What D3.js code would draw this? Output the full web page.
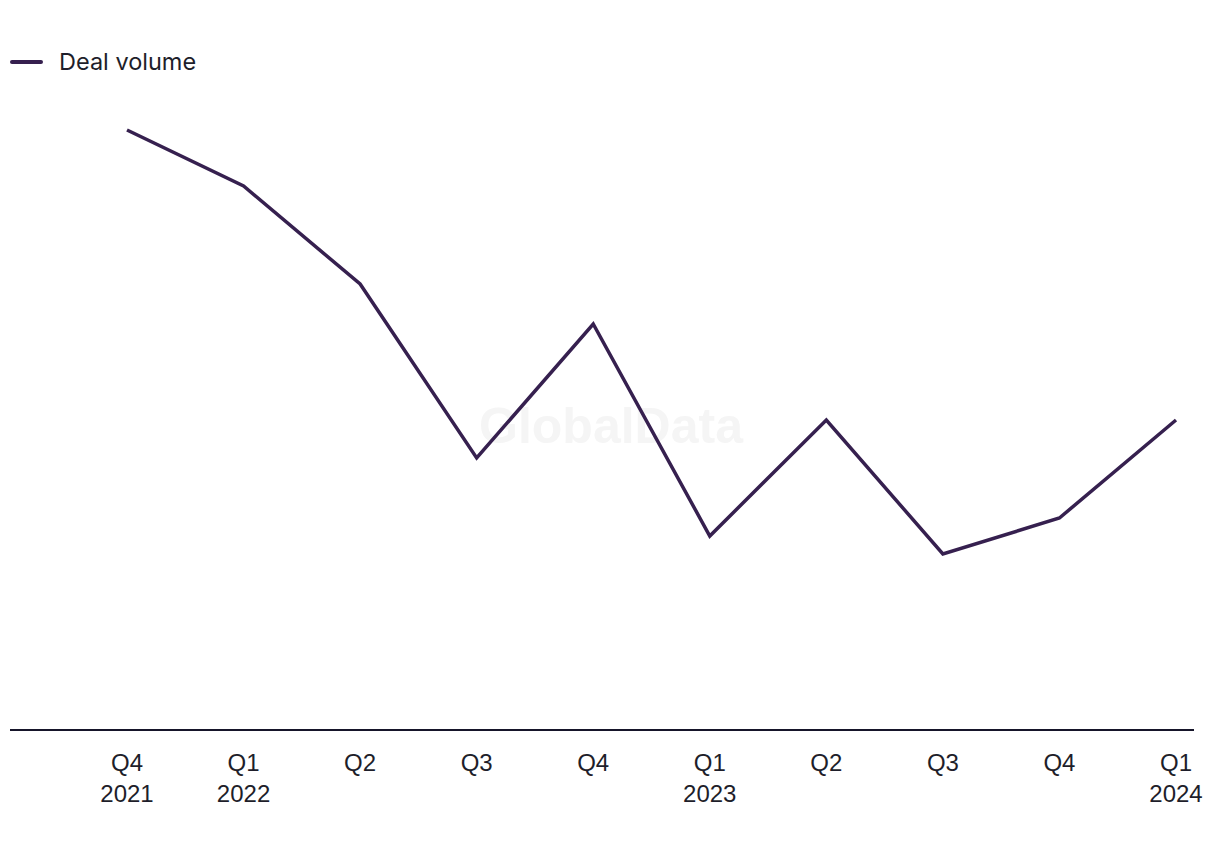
<!DOCTYPE html>
<html>
<head>
<meta charset="utf-8">
<script src="https://cdn.jsdelivr.net/npm/d3@7"></script>
<style>
  html, body { margin: 0; padding: 0; background: #ffffff; }
  svg { display: block; }
</style>
</head>
<body>
<svg id="chart" width="1220" height="850"></svg>
<script>
const quarters = ["Q4", "Q1", "Q2", "Q3", "Q4", "Q1", "Q2", "Q3", "Q4", "Q1"];
const years = ["2021", "2022", "", "", "", "2023", "", "", "", "2024"];
const categories = quarters.map((q, i) => q + " " + years[i] + "#" + i);
const dealVolume = [150, 136, 111.5, 68, 101.5, 48.5, 77.5, 44, 53, 77.5];
const seriesName = "Deal volume";

const svg = d3.select("#chart");
const lineColor = "#36204f";

// watermark
svg.append("text")
  .attr("x", 611).attr("y", 443)
  .attr("text-anchor", "middle")
  .attr("font-family", "Liberation Sans, Arial, sans-serif")
  .attr("font-weight", "bold")
  .attr("font-size", 50)
  .attr("fill", "#f5f5f5")
  .text("GlobalData");

const x = d3.scalePoint().domain(categories).range([127, 1176]);
const y = d3.scaleLinear().domain([0, 150]).range([730, 130]);

// baseline axis
const xAxis = d3.axisBottom(x).tickSize(0).tickFormat("");
const axisG = svg.append("g").attr("transform", "translate(0,730)").call(xAxis);
axisG.select(".domain").remove();
svg.append("line")
  .attr("x1", 10).attr("x2", 1194)
  .attr("y1", y(0)).attr("y2", y(0))
  .attr("stroke", "#16152a").attr("stroke-width", 2);

// tick labels
const labels = svg.append("g");
categories.forEach((c, i) => {
  const t = labels.append("text")
    .attr("x", x(c)).attr("y", 771)
    .attr("text-anchor", "middle")
    .attr("font-family", "Liberation Sans, Arial, sans-serif")
    .attr("font-size", 24)
    .attr("fill", "#1e1e2a");
  t.append("tspan").attr("x", x(c)).attr("dy", 0).text(quarters[i]);
  if (years[i]) t.append("tspan").attr("x", x(c)).attr("dy", 31).text(years[i]);
});

// line
const line = d3.line()
  .x((d, i) => x(categories[i]))
  .y(d => y(d));
svg.append("path")
  .datum(dealVolume)
  .attr("d", line)
  .attr("fill", "none")
  .attr("stroke", lineColor)
  .attr("stroke-width", 3.5)
  .attr("stroke-linejoin", "miter");

// legend
const lg = svg.append("g");
lg.append("line")
  .attr("x1", 12).attr("x2", 41).attr("y1", 62).attr("y2", 62)
  .attr("stroke", lineColor).attr("stroke-width", 4).attr("stroke-linecap", "round");
lg.append("text")
  .attr("x", 59).attr("y", 70)
  .attr("font-family", "Inter, Liberation Sans, sans-serif")
  .attr("font-size", 23.5)
  .attr("fill", "#1e1e2a")
  .text(seriesName);
</script>
</body>
</html>
